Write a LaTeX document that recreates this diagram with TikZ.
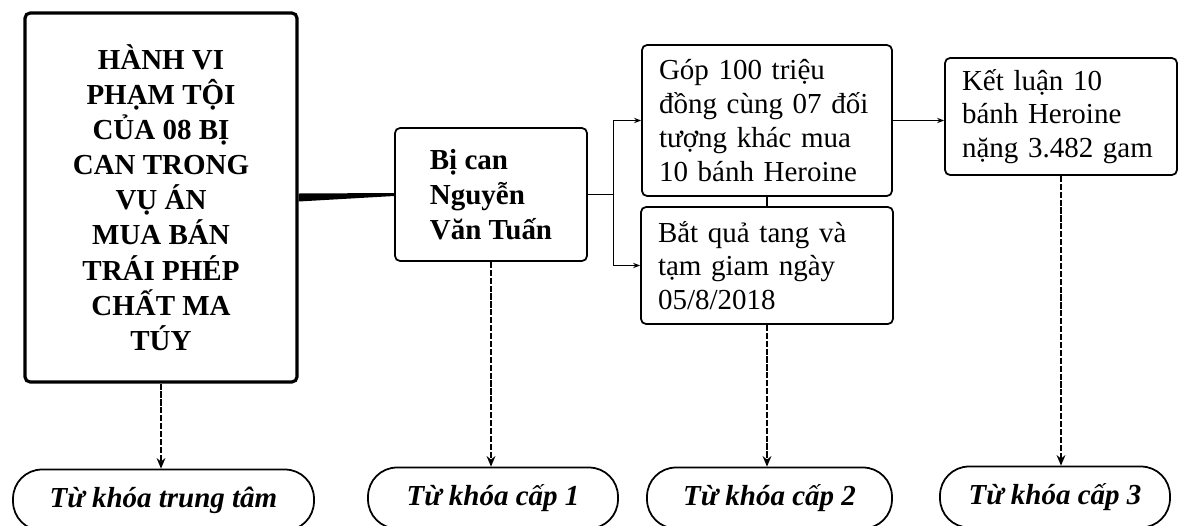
\documentclass[tikz,border=0pt]{standalone}
\usepackage{fontspec}
\setmainfont{Liberation Serif}
\usetikzlibrary{arrows.meta}
\tikzset{
  basebox/.style={draw, rounded corners=0.1cm, line width=1pt},
  centerbox/.style={basebox, line width=1.8pt, align=center, font=\fontsize{16.5}{20}\selectfont\bfseries},
  levelbox/.style={basebox, align=left, font=\fontsize{16.5}{20}\selectfont\bfseries},
  factbox/.style={basebox, align=left, inner xsep=0.34cm, font=\fontsize{16.5}{19.2}\selectfont},
  keybox/.style={draw, rounded corners=0.58cm, line width=1pt, minimum height=1.22cm, font=\fontsize{16.5}{19}\selectfont\bfseries\itshape},
  link/.style={line width=0.6pt},
  linkarrow/.style={link, -{Stealth[length=4pt,width=3pt]}},
  downarrow/.style={line width=0.9pt, dash pattern=on 3.5pt off 1pt, -{Stealth[length=6pt,width=5pt]}}
}
\begin{document}
\begin{tikzpicture}[x=0.02cm, y=-0.02cm]
\useasboundingbox (0,0) rectangle (1178,525);
\node[centerbox, minimum width=5.44cm, minimum height=7.38cm] (main) at (161,197.5) {HÀNH VI\\PHẠM TỘI\\CỦA 08 BỊ\\CAN TRONG\\VỤ ÁN\\MUA BÁN\\TRÁI PHÉP\\CHẤT MA\\TÚY};
\node[levelbox, minimum width=3.84cm, minimum height=2.66cm] (bican) at (491,194.5) {Bị can\\Nguyễn\\Văn Tuấn};
\node[factbox, text width=4.32cm, minimum height=3.02cm] (gop) at (767,120.5) {Góp 100 triệu\\đồng cùng 07 đối\\tượng khác mua\\10 bánh Heroine};
\node[factbox, text width=4.36cm, minimum height=2.34cm] (bat) at (767,265.5) {Bắt quả tang và\\tạm giam ngày\\05/8/2018};
\node[factbox, text width=3.96cm, minimum height=2.34cm] (ketluan) at (1061,116.5) {Kết luận 10\\bánh Heroine\\nặng 3.482 gam};
% tu khoa
\node[keybox, minimum width=6.02cm] (kw0) at (163.5,500) {Từ khóa trung tâm};
\node[keybox, minimum width=5cm] (kw1) at (493,498) {Từ khóa cấp 1};
\node[keybox, minimum width=4.9cm] (kw2) at (769.5,498) {Từ khóa cấp 2};
\node[keybox, minimum width=4.6cm] (kw3) at (1055,497) {Từ khóa cấp 3};
% noi cac o
\fill ([yshift=0.08cm]main.east) -- ([yshift=0.03cm]bican.west) -- ([yshift=-0.03cm]bican.west) -- ([yshift=-0.08cm]main.east) -- cycle;
\coordinate (fork) at ([xshift=0.52cm]bican.east);
\draw[link] (bican.east) -- (fork);
\draw[linkarrow] (fork) |- (gop.west);
\draw[linkarrow] (fork) |- (bat.west);
\draw[link] (gop.south) -- (bat.north);
\draw[linkarrow] (gop.east) -- (gop.east -| ketluan.west);
\draw[downarrow] (main.south) -- (main.south |- kw0.north);
\draw[downarrow] (bican.south) -- (bican.south |- kw1.north);
\draw[downarrow] (bat.south) -- (bat.south |- kw2.north);
\draw[downarrow] (ketluan.south) -- (ketluan.south |- kw3.north);
\end{tikzpicture}
\end{document}
